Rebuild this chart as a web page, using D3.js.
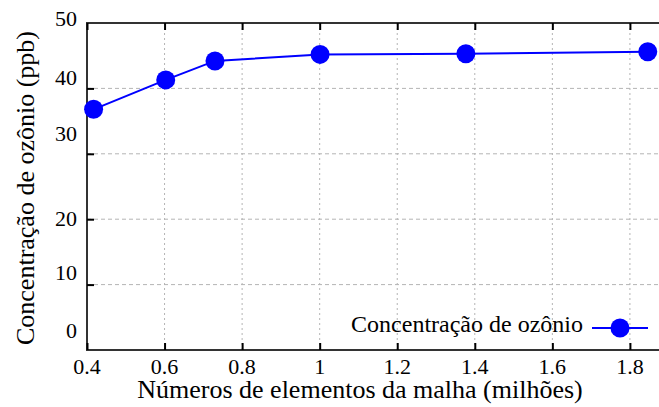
<!DOCTYPE html>
<html>
<head>
<meta charset="utf-8">
<script src="https://cdn.jsdelivr.net/npm/d3@7"></script>
</head>
<body style="margin:0">
<svg id="chart" width="659" height="407"></svg>
<script>
// Mesh size (millions of elements) vs. ozone concentration (ppb)
const meshElements = [0.417, 0.603, 0.730, 1.001, 1.377, 1.846];
const ozoneConc = [36.8, 41.3, 44.2, 45.2, 45.3, 45.6];
const xTicks = [0.4, 0.6, 0.8, 1, 1.2, 1.4, 1.6, 1.8];
const yTicks = [0, 10, 20, 30, 40, 50];
const seriesName = "Concentração de ozônio";
const xTitle = "Números de elementos da malha (milhões)";
const yTitle = "Concentração de ozônio (ppb)";

const svg = d3.select("#chart");
const plotLeft = 87, plotTop = 23, plotBottom = 350, plotRight = 659;

const x = d3.scaleLinear().domain([0.4, 1.875]).range([plotLeft, plotRight]);
const y = d3.scaleLinear().domain([0, 50]).range([plotBottom, plotTop]);

// grid
const grid = svg.append("g");
grid.selectAll("line.vg").data(xTicks.filter(d => d > 0.4)).join("line")
  .attr("x1", d => x(d)).attr("x2", d => x(d))
  .attr("y1", plotTop).attr("y2", plotBottom)
  .attr("stroke", "#b4b4b4").attr("stroke-width", 1)
  .attr("stroke-dasharray", "2,3");
grid.selectAll("line.hg").data(yTicks.filter(d => d > 0 && d < 50)).join("line")
  .attr("x1", plotLeft).attr("x2", plotRight)
  .attr("y1", d => y(d)).attr("y2", d => y(d))
  .attr("stroke", "#b4b4b4").attr("stroke-width", 1)
  .attr("stroke-dasharray", "4,3");

// frame
const frame = svg.append("g").attr("stroke", "#333").attr("stroke-width", 2).attr("fill", "none");
frame.append("line").attr("x1", plotLeft).attr("x2", plotRight).attr("y1", plotBottom).attr("y2", plotBottom);
frame.append("line").attr("x1", plotLeft).attr("x2", plotRight).attr("y1", plotTop).attr("y2", plotTop);
frame.append("line").attr("x1", plotLeft).attr("x2", plotLeft).attr("y1", plotTop - 1).attr("y2", plotBottom + 1);

// inward tick marks drawn by the axis generators (labels added separately)
const tickLen = 7;
function tickMarks(g) {
  g.select(".domain").remove();
  g.selectAll(".tick text").remove();
  g.selectAll(".tick line").attr("stroke", "#000").attr("stroke-width", 2);
}
svg.append("g").attr("transform", `translate(0,${plotBottom})`)
  .call(d3.axisBottom(x).tickValues(xTicks).tickSize(-tickLen)).call(tickMarks);
svg.append("g").attr("transform", `translate(0,${plotTop})`)
  .call(d3.axisTop(x).tickValues(xTicks).tickSize(-tickLen)).call(tickMarks);
svg.append("g").attr("transform", `translate(${plotLeft},0)`)
  .call(d3.axisLeft(y).tickValues(yTicks.filter(d => d > 0 && d < 50)).tickSize(-tickLen)).call(tickMarks);

// tick labels
const fmt = d3.format("~g");
svg.append("g").selectAll("text").data(xTicks).join("text")
  .attr("x", d => x(d)).attr("y", plotBottom + 24)
  .attr("text-anchor", "middle")
  .attr("font-size", 22)
  .style("font-family", `"Liberation Serif"`)
  .text(d => fmt(d));

// y labels sit slightly above their lines
const yLabelNudge = {0: -20, 10: -12, 20: -1, 30: -20, 40: -11, 50: -5};
svg.append("g").selectAll("text").data(yTicks).join("text")
  .attr("x", plotLeft - 10).attr("y", d => y(d) + yLabelNudge[d] + 7.5)
  .attr("text-anchor", "end")
  .attr("font-size", 22)
  .style("font-family", `"Liberation Serif"`)
  .text(d => d);

// series
const line = d3.line().x((d, i) => x(meshElements[i])).y(d => y(d));
svg.append("path").datum(ozoneConc)
  .attr("d", line).attr("fill", "none")
  .attr("stroke", "#0000ff").attr("stroke-width", 2);
svg.append("g").selectAll("circle").data(ozoneConc).join("circle")
  .attr("cx", (d, i) => x(meshElements[i])).attr("cy", d => y(d))
  .attr("r", 9.5).attr("fill", "#0000ff");

// legend
const leg = svg.append("g");
leg.append("text").attr("x", 583).attr("y", 332)
  .attr("text-anchor", "end")
  .attr("font-size", 24)
  .style("font-family", `"Liberation Serif"`)
  .text(seriesName);
leg.append("line").attr("x1", 592).attr("x2", 648).attr("y1", 328).attr("y2", 328)
  .attr("stroke", "#0000ff").attr("stroke-width", 2);
leg.append("circle").attr("cx", 620).attr("cy", 328).attr("r", 9.5).attr("fill", "#0000ff");

// axis titles
svg.append("text").attr("x", 360).attr("y", 398)
  .attr("text-anchor", "middle")
  .attr("font-size", 26)
  .style("font-family", `"Liberation Serif"`)
  .text(xTitle);
svg.append("text")
  .attr("transform", "translate(34,188) rotate(-90)")
  .attr("text-anchor", "middle")
  .attr("font-size", 26)
  .style("font-family", `"Liberation Serif"`)
  .text(yTitle);
</script>
</body>
</html>
